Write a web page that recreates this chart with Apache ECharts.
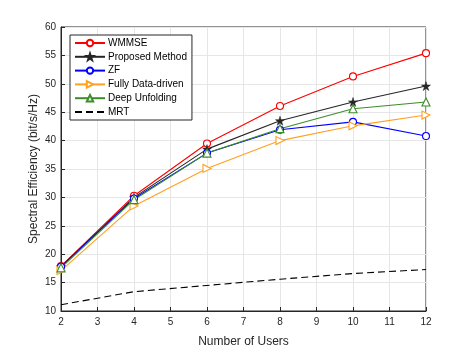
<!DOCTYPE html>
<html>
<head>
<meta charset="utf-8">
<script src="https://cdn.jsdelivr.net/npm/echarts@6/dist/echarts.min.js"></script>
<style>
  html, body { margin: 0; padding: 0; background: #fff; }
  #chart { width: 471px; height: 353px; }
</style>
</head>
<body>
<div id="chart"></div>
<script>
// number of users
const users = [2, 4, 6, 8, 10, 12];
// spectral efficiency (bit/s/Hz)
const wmmse = [17.9, 30.3, 39.5, 46.1, 51.3, 55.4];
const proposed = [17.8, 30.0, 38.5, 43.5, 46.8, 49.6];
const zf = [17.8, 29.8, 37.8, 41.9, 43.3, 40.8];
const fullyDD = [17.1, 28.5, 35.1, 40.0, 42.6, 44.5];
const deepUnf = [17.6, 29.6, 37.8, 42.1, 45.6, 46.8];
const mrt = [11.1, 13.4, 14.5, 15.6, 16.6, 17.3];

const starPath = 'path://M0,-1L0.223,-0.307L0.951,-0.309L0.361,0.117L0.588,0.809L0,0.38L-0.588,0.809L-0.361,0.117L-0.951,-0.309L-0.223,-0.307Z';

const font = 'Liberation Sans, Arial, Helvetica, sans-serif';

function pairs(ys) {
  return users.map((u, i) => [u, ys[i]]);
}

function lineSeries(name, ys, color, symbol, opts) {
  return Object.assign({
    name: name,
    type: 'line',
    data: pairs(ys),
    symbol: symbol,
    symbolSize: 7,
    showSymbol: true,
    lineStyle: { color: color, width: 1.1 },
    itemStyle: { color: '#fff', borderColor: color, borderWidth: 1.1 },
    emphasis: { disabled: true },
    z: 3,
  }, opts || {});
}

const chart = echarts.init(document.getElementById('chart'));

const option = {
  animation: false,
  textStyle: { fontFamily: font },
  grid: {
    left: 61,
    right: 45,
    top: 27,
    bottom: 39,
    show: true,
    borderColor: '#262626',
    borderWidth: 1,
  },
  legend: {
    orient: 'vertical',
    left: 70,
    top: 35,
    padding: [3, 5, 3, 4],
    backgroundColor: '#fff',
    borderColor: '#262626',
    borderWidth: 1,
    borderRadius: 0,
    itemWidth: 30,
    itemHeight: 8,
    itemGap: 3.8,
    textStyle: { fontSize: 10, color: '#000', fontFamily: font, padding: [0, 0, 0, -2] },
    data: [
      'WMMSE', 'Proposed Method', 'ZF', 'Fully Data-driven', 'Deep Unfolding',
      { name: 'MRT', itemStyle: { opacity: 0 } },
    ],
  },
  xAxis: {
    type: 'value',
    min: 2,
    max: 12,
    interval: 1,
    name: 'Number of Users',
    nameLocation: 'middle',
    nameGap: 25,
    nameMoveOverlap: false,
    nameTextStyle: { fontSize: 12, color: '#262626' },
    axisLine: { show: true, lineStyle: { color: '#262626' } },
    axisTick: { show: true, inside: true, length: 4, lineStyle: { color: '#262626' } },
    axisLabel: { fontSize: 10, color: '#262626', margin: 6 },
    splitLine: { show: true, lineStyle: { color: '#e6e6e6' } },
  },
  yAxis: {
    type: 'value',
    min: 10,
    max: 60,
    interval: 5,
    name: 'Spectral Efficiency (bit/s/Hz)',
    nameLocation: 'middle',
    nameGap: 21,
    nameMoveOverlap: false,
    nameTextStyle: { fontSize: 12, color: '#262626' },
    axisLine: { show: true, lineStyle: { color: '#262626' } },
    axisTick: { show: true, inside: true, length: 4, lineStyle: { color: '#262626' } },
    axisLabel: { fontSize: 10, color: '#262626', margin: 5 },
    splitLine: { show: true, lineStyle: { color: '#e6e6e6' } },
  },
  series: [
    lineSeries('WMMSE', wmmse, '#ff0000', 'circle'),
    lineSeries('Proposed Method', proposed, '#262626', starPath, {
      symbolSize: 9,
      itemStyle: { color: '#262626', borderColor: '#262626', borderWidth: 0.5 },
    }),
    lineSeries('ZF', zf, '#0000ff', 'circle'),
    lineSeries('Fully Data-driven', fullyDD, '#ffa020', 'triangle', { symbolRotate: -90, symbolSize: 8 }),
    lineSeries('Deep Unfolding', deepUnf, '#3c8c28', 'triangle', { symbolSize: 8 }),
    lineSeries('MRT', mrt, '#000000', 'circle', {
      showSymbol: false,
      lineStyle: { color: '#000', width: 1.1, type: [7, 4] },
      itemStyle: { color: '#000' },
    }),
  ],
};

chart.setOption(option);
</script>
</body>
</html>
